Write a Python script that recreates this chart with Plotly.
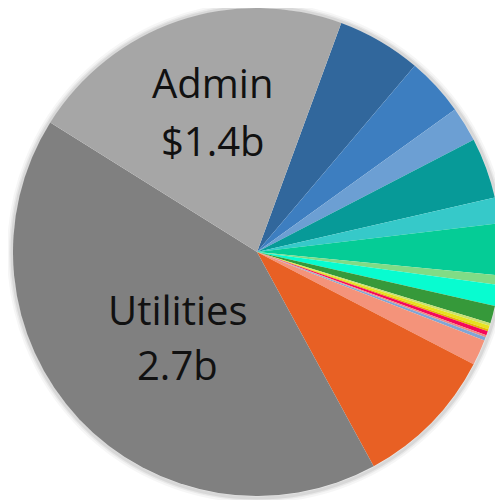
import plotly.graph_objects as go

# Slices in clockwise order, starting just right of 12 o'clock
categories = [
    "Category 1", "Category 2", "Category 3", "Category 4", "Category 5",
    "Category 6", "Category 7", "Category 8", "Category 9", "Category 10",
    "Category 11", "Category 12", "Category 13", "Category 14", "Category 15",
    "Category 16", "Category 17", "Utilities", "Admin",
]
values_b = [
    0.36, 0.25, 0.15, 0.26, 0.11,
    0.22, 0.04, 0.09, 0.075, 0.011,
    0.016, 0.009, 0.018, 0.009, 0.014,
    0.11, 0.61, 2.7, 1.4,
]
colors = [
    "#31679C", "#3D7EC0", "#6C9FD3", "#079A98", "#36C9C9",
    "#05CC96", "#80DC86", "#08FCD0", "#36993A", "#C9E070",
    "#E6E31E", "#E6B800", "#F5085A", "#F08A80", "#80A6D6",
    "#F4937A", "#E86024", "#808080", "#A6A6A6",
]

# slice labels, one entry per line
label_lines = ["Admin", "$1.4b", "Utilities", "2.7b"]
label_pos = [(0.4056, 0.851), (0.4076, 0.735), (0.338, 0.397), (0.337, 0.287)]

W, H = 503, 500
cx, cy_top, R = 249, 244, 244  # pie centre (from top) and radius in px

fig = go.Figure()

# soft shadow ring behind the pie
for w, a in [(10, 0.035), (6, 0.05), (3, 0.07)]:
    fig.add_shape(
        type="circle", xref="paper", yref="paper",
        x0=(cx - R - 1) / W, x1=(cx + R + 2) / W,
        y0=(H - cy_top - R - 2) / H, y1=(H - cy_top + R + 1) / H,
        line=dict(color=f"rgba(0,0,0,{a})", width=w),
        fillcolor="rgba(0,0,0,0)", layer="below",
    )

fig.add_trace(go.Pie(
    labels=categories,
    values=values_b,
    marker=dict(colors=colors, line=dict(width=0)),
    sort=False,
    direction="clockwise",
    rotation=20.2,
    textinfo="none",
    hole=0,
    domain=dict(x=[(cx - R) / W, (cx + R) / W],
                y=[(H - cy_top - R) / H, min(1.0, (H - cy_top + R) / H)]),
    showlegend=False,
))

for txt, (x, y) in zip(label_lines, label_pos):
    fig.add_annotation(
        text=txt, x=x, y=y, xref="paper", yref="paper",
        showarrow=False, xanchor="center", yanchor="middle",
        font=dict(family="Open Sans", size=40, color="#111111"),
    )

fig.update_layout(
    width=W, height=H,
    margin=dict(l=0, r=0, t=0, b=0),
    paper_bgcolor="white", plot_bgcolor="white",
)

fig.write_html("out.html")
